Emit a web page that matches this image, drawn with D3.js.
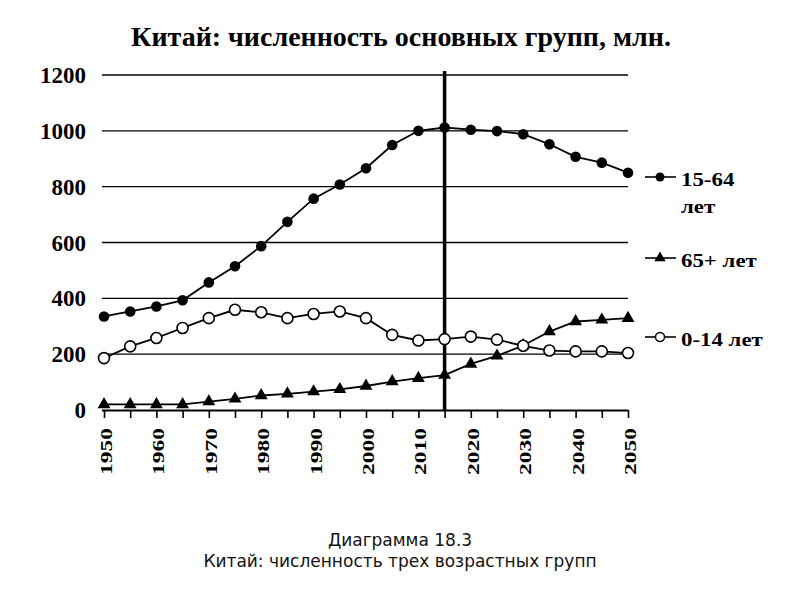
<!DOCTYPE html>
<html><head><meta charset="utf-8">
<script src="https://cdn.jsdelivr.net/npm/d3@7"></script>
<style>body{margin:0;background:#fff}</style>
</head><body>
<svg id="c" width="800" height="600"></svg>
<script>
const years = [1950,1955,1960,1965,1970,1975,1980,1985,1990,1995,2000,2005,2010,2015,2020,2025,2030,2035,2040,2045,2050];
const working = [335,353,371,393,457,515,587,674,757,808,866,949,1000,1012,1004,999,988,952,907,886,850];
const elderly = [20,20,20,20,30,40,52,58,66,74,86,102,114,125,165,194,231,281,317,323,329];
const children = [186,228,258,294,329,359,350,329,344,353,329,269,249,254,263,252,230,213,210,210,204];
const yTicks = [0,200,400,600,800,1000,1200];
const xLabels = [1950,1960,1970,1980,1990,2000,2010,2020,2030,2040,2050];
const markerYear = 2015;

const svg = d3.select("#c");
const serif = "'Liberation Serif','Times New Roman',serif";
const x = d3.scalePoint().domain(years).range([104, 628]);
const y = d3.scaleLinear().domain([0,1200]).range([410, 75]);

svg.append("text").attr("x",401).attr("y",46).attr("text-anchor","middle")
  .attr("font-family",serif).attr("font-weight","bold").attr("font-size",28)
  .text("Китай: численность основных групп, млн.");

// gridlines
svg.append("g").selectAll("line").data(yTicks.filter(d=>d>0)).join("line")
  .attr("x1",102).attr("x2",628).attr("y1",d=>y(d)).attr("y2",d=>y(d))
  .attr("stroke","#000").attr("stroke-width",1.4);

// y labels
svg.append("g").selectAll("text").data(yTicks).join("text")
  .attr("x",86).attr("y",d=>y(d)+8).attr("text-anchor","end")
  .attr("font-family",serif).attr("font-weight","bold").attr("font-size",23)
  .text(d=>d);

// x axis
const xAxis = d3.axisBottom(x).tickSize(8).tickFormat("");
const gx = svg.append("g").attr("transform","translate(0,410)").call(xAxis);
gx.select(".domain").attr("stroke","#000").attr("stroke-width",1.8).attr("d","M102,0.5H628");
gx.selectAll(".tick line").attr("stroke","#000").attr("stroke-width",1.6);
svg.append("g").selectAll("text").data(xLabels).join("text")
  .attr("transform",d=>`translate(${x(d)+8},428) rotate(-90) scale(1.38,1)`)
  .attr("text-anchor","end")
  .attr("font-family",serif).attr("font-weight","bold").attr("font-size",17)
  .text(d=>d);

// vertical marker line
svg.append("line").attr("x1",x(markerYear)).attr("x2",x(markerYear))
  .attr("y1",y(1200)-4).attr("y2",410).attr("stroke","#000").attr("stroke-width",3.5);

const line = d3.line().x((d,i)=>x(years[i])).y(d=>y(d));
function drawLine(vals){
  svg.append("path").datum(vals).attr("d",line).attr("fill","none")
    .attr("stroke","#000").attr("stroke-width",1.8);
}
drawLine(working); drawLine(elderly); drawLine(children);

const tri = d3.symbol().type(d3.symbolTriangle).size(72);
svg.append("g").selectAll("circle").data(working).join("circle")
  .attr("cx",(d,i)=>x(years[i])).attr("cy",d=>y(d)).attr("r",5.3).attr("fill","#000");
svg.append("g").selectAll("path").data(elderly).join("path")
  .attr("d",tri).attr("transform",(d,i)=>`translate(${x(years[i])},${y(d)})`).attr("fill","#000");
svg.append("g").selectAll("circle").data(children).join("circle")
  .attr("cx",(d,i)=>x(years[i])).attr("cy",d=>y(d)).attr("r",5.5)
  .attr("fill","#fff").attr("stroke","#000").attr("stroke-width",1.6);

// legend
const legend = [
  {label:["15-64","лет"], y:177, kind:"dot"},
  {label:["65+ лет"], y:258, kind:"tri"},
  {label:["0-14 лет"], y:337, kind:"open"}
];
legend.forEach(l=>{
  svg.append("line").attr("x1",645).attr("x2",676).attr("y1",l.y).attr("y2",l.y)
    .attr("stroke","#000").attr("stroke-width",1.6);
  if(l.kind==="dot") svg.append("circle").attr("cx",660).attr("cy",l.y).attr("r",4.5).attr("fill","#000");
  if(l.kind==="tri") svg.append("path").attr("d",d3.symbol().type(d3.symbolTriangle).size(55)).attr("transform",`translate(660,${l.y})`).attr("fill","#000");
  if(l.kind==="open") svg.append("circle").attr("cx",660).attr("cy",l.y).attr("r",4.5).attr("fill","#fff").attr("stroke","#000").attr("stroke-width",1.5);
  l.label.forEach((t,j)=>{
    svg.append("text").attr("transform",`translate(681,${l.y+9+j*27}) scale(1.27,1)`)
      .attr("font-family",serif).attr("font-weight","bold").attr("font-size",18)
      .text(t);
  });
});

// caption
svg.append("text").attr("x",400).attr("y",546).attr("text-anchor","middle")
  .attr("font-family","'DejaVu Sans',sans-serif").attr("font-size",17).attr("fill","#111")
  .text("Диаграмма 18.3");
svg.append("text").attr("x",400).attr("y",567).attr("text-anchor","middle")
  .attr("font-family","'DejaVu Sans',sans-serif").attr("font-size",17).attr("fill","#111")
  .text("Китай: численность трех возрастных групп");
</script>
</body></html>
